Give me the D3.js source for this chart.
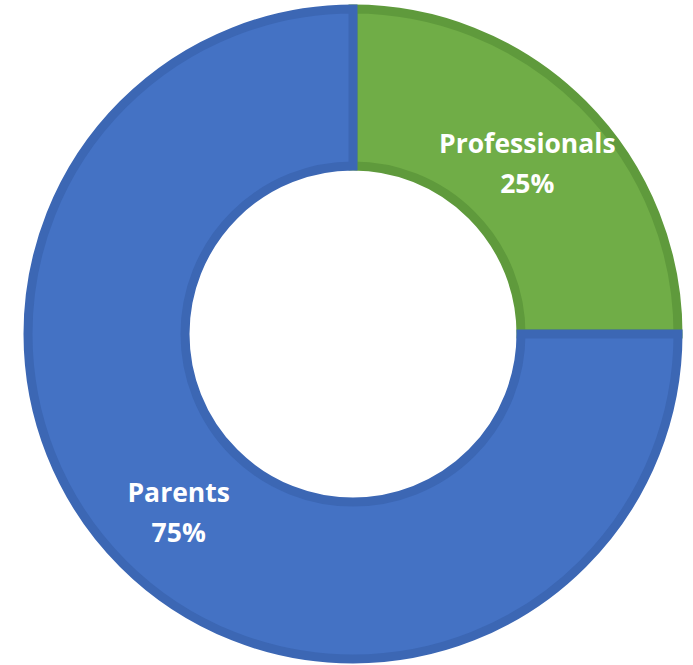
<!DOCTYPE html>
<html>
<head>
<meta charset="utf-8">
<script src="https://cdn.jsdelivr.net/npm/d3@7"></script>
<style>
  body { margin: 0; background: #fff; }
</style>
</head>
<body>
<div id="chart"></div>
<script>
const [width, height] = [693, 665];

// data
const categories = ["Professionals", "Parents"];
const values = [25, 75];
const fills = ["#70AD47", "#4472C4"];
const strokes = ["#5F9A3C", "#3C67B4"];

const cx = 353, cy = 334;
const outerR = 325, innerR = 168;

const svg = d3.select("#chart")
  .append("svg")
  .attr("width", width)
  .attr("height", height);

const g = svg.append("g")
  .attr("transform", `translate(${cx}, ${cy})`);

const pie = d3.pie().sort(null).value(d => d.value);
const data = categories.map((c, i) => ({ name: c, value: values[i], i }));
const arcs = pie(data);

const arc = d3.arc().innerRadius(innerR).outerRadius(outerR);

g.selectAll(".slice")
  .data(arcs)
  .enter()
  .append("path")
  .attr("class", "slice")
  .attr("d", arc)
  .attr("fill", d => fills[d.data.i])
  .attr("stroke", d => strokes[d.data.i])
  .attr("stroke-width", 9)
  .attr("stroke-linejoin", "miter");

// labels, two lines around each slice centroid
const labels = g.selectAll(".label")
  .data(arcs)
  .enter()
  .append("text")
  .attr("class", "label")
  .attr("transform", d => {
    const [x, y] = arc.centroid(d);
    return `translate(${x}, ${y})`;
  })
  .attr("text-anchor", "middle")
  .attr("fill", "#fff")
  .style("font-family", "'Open Sans', sans-serif")
  .style("font-weight", "bold")
  .style("font-size", "26.5px");

labels.append("tspan")
  .attr("x", 0)
  .attr("y", d => d.data.i === 0 ? -7 : -6)
  .text(d => d.data.name);

labels.append("tspan")
  .attr("x", 0)
  .attr("y", d => d.data.i === 0 ? 33 : 34)
  .text(d => d.data.value + "%");
</script>
</body>
</html>
